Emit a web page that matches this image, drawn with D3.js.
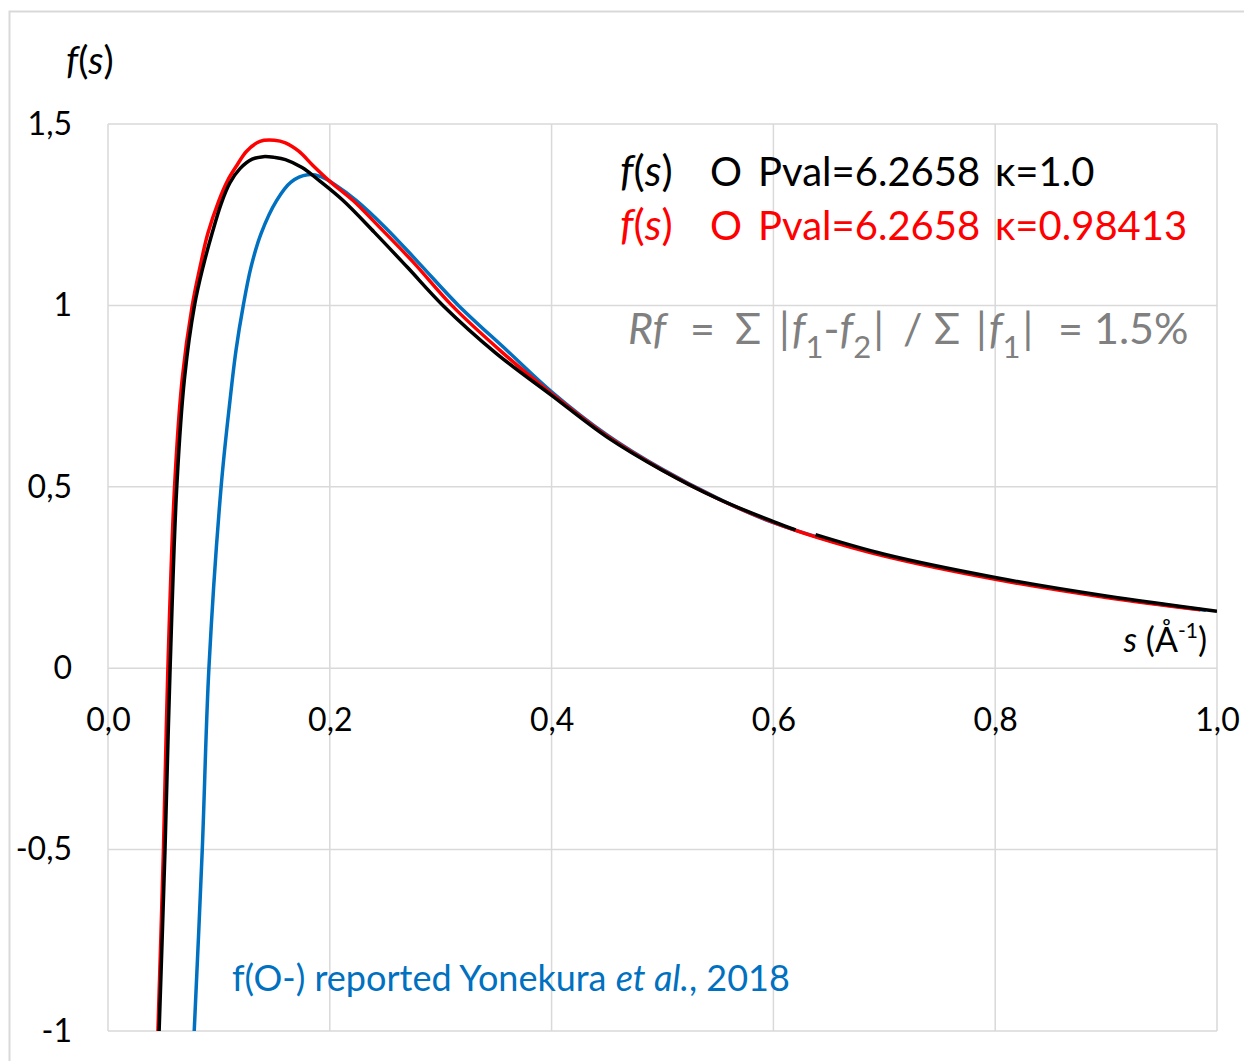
<!DOCTYPE html>
<html>
<head>
<meta charset="utf-8">
<script src="https://cdn.jsdelivr.net/npm/d3@7"></script>
<style>
  html, body { margin: 0; padding: 0; background: #fff; }
  svg text { font-family: Lato, "Noto Sans", sans-serif; }
</style>
</head>
<body>
<svg id="chart" width="1244" height="1061"></svg>
<script>
// ticks
const xTicks = [0, 0.2, 0.4, 0.6, 0.8, 1.0];
const yTicks = [-1, -0.5, 0, 0.5, 1, 1.5];

// f(s) O, Pval=6.2658, kappa=1.0 (black) - drawn in two pieces
const blackS1 = [0.045, 0.0514, 0.056, 0.062, 0.069, 0.078, 0.086, 0.094, 0.102, 0.110, 0.119, 0.130, 0.140, 0.150, 0.160, 0.175, 0.190, 0.212, 0.240, 0.270, 0.302, 0.350, 0.400, 0.450, 0.500, 0.550, 0.600, 0.620];
const blackF1 = [-1.1, -0.5, 0.0, 0.5, 0.8, 1.0, 1.11, 1.2, 1.28, 1.338, 1.377, 1.403, 1.41, 1.408, 1.402, 1.38, 1.345, 1.289, 1.202, 1.105, 1.0, 0.868, 0.752, 0.637, 0.545, 0.467, 0.404, 0.381];
const blackS2 = [0.638, 0.700, 0.800, 0.900, 1.000];
const blackF2 = [0.368, 0.314, 0.250, 0.199, 0.157];

// f(s) O, Pval=6.2658, kappa=0.98413 (red)
const redS = [0.044, 0.050, 0.054, 0.060, 0.067, 0.076, 0.083, 0.090, 0.100, 0.108, 0.116, 0.125, 0.137, 0.150, 0.160, 0.172, 0.185, 0.200, 0.221, 0.245, 0.275, 0.310, 0.355, 0.400, 0.450, 0.500, 0.550, 0.600, 0.640, 0.700, 0.800, 0.900, 0.985];
const redF = [-1.1, -0.5, 0.0, 0.5, 0.8, 1.0, 1.106, 1.198, 1.289, 1.345, 1.385, 1.425, 1.452, 1.455, 1.448, 1.425, 1.385, 1.342, 1.289, 1.215, 1.12, 1.0, 0.872, 0.757, 0.640, 0.546, 0.467, 0.402, 0.360, 0.309, 0.245, 0.195, 0.161];

// f(O-) Yonekura et al., 2018 (blue)
const blueS = [0.077, 0.085, 0.091, 0.102, 0.110, 0.1154, 0.122, 0.129, 0.138, 0.152, 0.165, 0.180, 0.192, 0.205, 0.224, 0.250, 0.280, 0.316, 0.360, 0.400, 0.450, 0.500, 0.550, 0.600, 0.700, 0.800, 0.900, 0.990];
const blueF = [-1.05, -0.5, 0.0, 0.5, 0.738, 0.876, 1.0, 1.106, 1.198, 1.289, 1.34, 1.36, 1.355, 1.332, 1.289, 1.215, 1.118, 1.0, 0.875, 0.762, 0.643, 0.548, 0.468, 0.401, 0.311, 0.247, 0.197, 0.160];

const svg = d3.select('#chart');
const plot = { left: 108, right: 1217, top: 124, bottom: 1031 };

const x = d3.scaleLinear().domain([0, 1]).range([plot.left, plot.right]);
const y = d3.scaleLinear().domain([-1, 1.5]).range([plot.bottom, plot.top]);

const locale = d3.formatLocale({ decimal: ',', thousands: ' ', grouping: [3], currency: ['', ''], minus: '-' });
const fmtX = locale.format('.1f');
const fmtY = d => Number.isInteger(d) ? locale.format('d')(d) : locale.format('.1f')(d);

// chart frame (only top and left edges fall inside the picture)
svg.append('rect')
  .attr('x', 9.5).attr('y', 11.5)
  .attr('width', 1300).attr('height', 1100)
  .attr('fill', 'none').attr('stroke', '#d9d9d9').attr('stroke-width', 2);

// grid
const grid = svg.append('g').attr('stroke', '#d9d9d9').attr('stroke-width', 1.5);
grid.selectAll('line.h').data(yTicks).enter().append('line')
  .attr('x1', plot.left).attr('x2', plot.right)
  .attr('y1', d => y(d)).attr('y2', d => y(d));
grid.selectAll('line.v').data(xTicks).enter().append('line')
  .attr('y1', plot.top).attr('y2', plot.bottom)
  .attr('x1', d => x(d)).attr('x2', d => x(d));

// tick labels through d3 axes
const yAxis = svg.append('g')
  .attr('transform', `translate(${plot.left},0)`)
  .call(d3.axisLeft(y).tickValues(yTicks).tickFormat(fmtY).tickSize(0).tickPadding(36));
const xAxis = svg.append('g')
  .attr('transform', `translate(0,${y(0)})`)
  .call(d3.axisBottom(x).tickValues(xTicks).tickFormat(fmtX).tickSize(0).tickPadding(40));
[yAxis, xAxis].forEach(a => {
  a.select('.domain').remove();
  a.selectAll('text').attr('font-family', 'Lato, sans-serif').attr('font-size', 32).attr('fill', '#000');
});

// curves
svg.append('clipPath').attr('id', 'clip').append('rect')
  .attr('x', plot.left).attr('y', plot.top)
  .attr('width', plot.right - plot.left).attr('height', plot.bottom - plot.top);

const line = d3.line().x(d => x(d[0])).y(d => y(d[1])).curve(d3.curveCatmullRom.alpha(0.5));
const series = [
  { s: blueS, f: blueF, color: '#0070c0' },
  { s: redS, f: redF, color: '#ff0000' },
  { s: blackS1, f: blackF1, color: '#000000' },
  { s: blackS2, f: blackF2, color: '#000000' }
];
const curves = svg.append('g').attr('clip-path', 'url(#clip)');
curves.selectAll('path').data(series).enter().append('path')
  .attr('d', d => line(d3.zip(d.s, d.f)))
  .attr('fill', 'none')
  .attr('stroke', d => d.color)
  .attr('stroke-width', 3.5)
  .attr('stroke-linejoin', 'round');

// axis titles
const ft = svg.append('text').attr('x', 66).attr('y', 74).attr('font-size', 38).attr('fill', '#000');
ft.append('tspan').attr('font-style', 'italic').text('f');
ft.append('tspan').text('(');
ft.append('tspan').attr('font-style', 'italic').text('s');
ft.append('tspan').text(')');

const st = svg.append('text').attr('x', 1207).attr('y', 652).attr('text-anchor', 'end').attr('font-size', 34).attr('fill', '#000');
st.append('tspan').attr('font-style', 'italic').text('s');
st.append('tspan').text(' (Å');
st.append('tspan').attr('font-size', 21).attr('dy', -14).text('-1');
st.append('tspan').attr('dy', 14).text(')');

// legend
function legendLine(yPos, color, kappa) {
  const t = svg.append('text').attr('y', yPos).attr('font-size', 40).attr('fill', color);
  t.append('tspan').attr('x', 620).attr('font-style', 'italic').attr('font-size', 42).text('f');
  t.append('tspan').attr('font-size', 42).text('(');
  t.append('tspan').attr('font-style', 'italic').attr('font-size', 42).text('s');
  t.append('tspan').attr('font-size', 42).text(')');
  t.append('tspan').attr('x', 710).text('O');
  t.append('tspan').attr('x', 758).text('Pval=6.2658');
  t.append('tspan').attr('x', 995).text(`κ=${kappa}`);
}
legendLine(186, '#000000', '1.0');
legendLine(240, '#ff0000', '0.98413');

const rf = svg.append('text').attr('y', 344).attr('font-size', 43).attr('fill', '#808080');
rf.append('tspan').attr('x', 628).attr('font-style', 'italic').text('Rf');
rf.append('tspan').attr('x', 690).text('=');
rf.append('tspan').attr('x', 735).text('Σ');
rf.append('tspan').attr('x', 779).text('|');
rf.append('tspan').attr('dx', 2).attr('font-style', 'italic').text('f');
rf.append('tspan').attr('font-size', 31).attr('dy', 14).text('1');
rf.append('tspan').attr('dy', -14).text('-');
rf.append('tspan').attr('font-style', 'italic').text('f');
rf.append('tspan').attr('font-size', 31).attr('dy', 14).text('2');
rf.append('tspan').attr('dy', -14).attr('dx', 2).text('|');
rf.append('tspan').attr('x', 903).text('/');
rf.append('tspan').attr('x', 934).text('Σ');
rf.append('tspan').attr('x', 976).text('|');
rf.append('tspan').attr('dx', 2).attr('font-style', 'italic').text('f');
rf.append('tspan').attr('font-size', 31).attr('dy', 14).text('1');
rf.append('tspan').attr('dy', -14).attr('dx', 2).text('|');
rf.append('tspan').attr('x', 1058).text('= 1.5%');

const yk = svg.append('text').attr('x', 232).attr('y', 991).attr('font-size', 36).attr('fill', '#0070c0');
yk.append('tspan').text('f(O-) reported Yonekura ');
yk.append('tspan').attr('font-style', 'italic').text('et al.');
yk.append('tspan').text(', 2018');
</script>
</body>
</html>
